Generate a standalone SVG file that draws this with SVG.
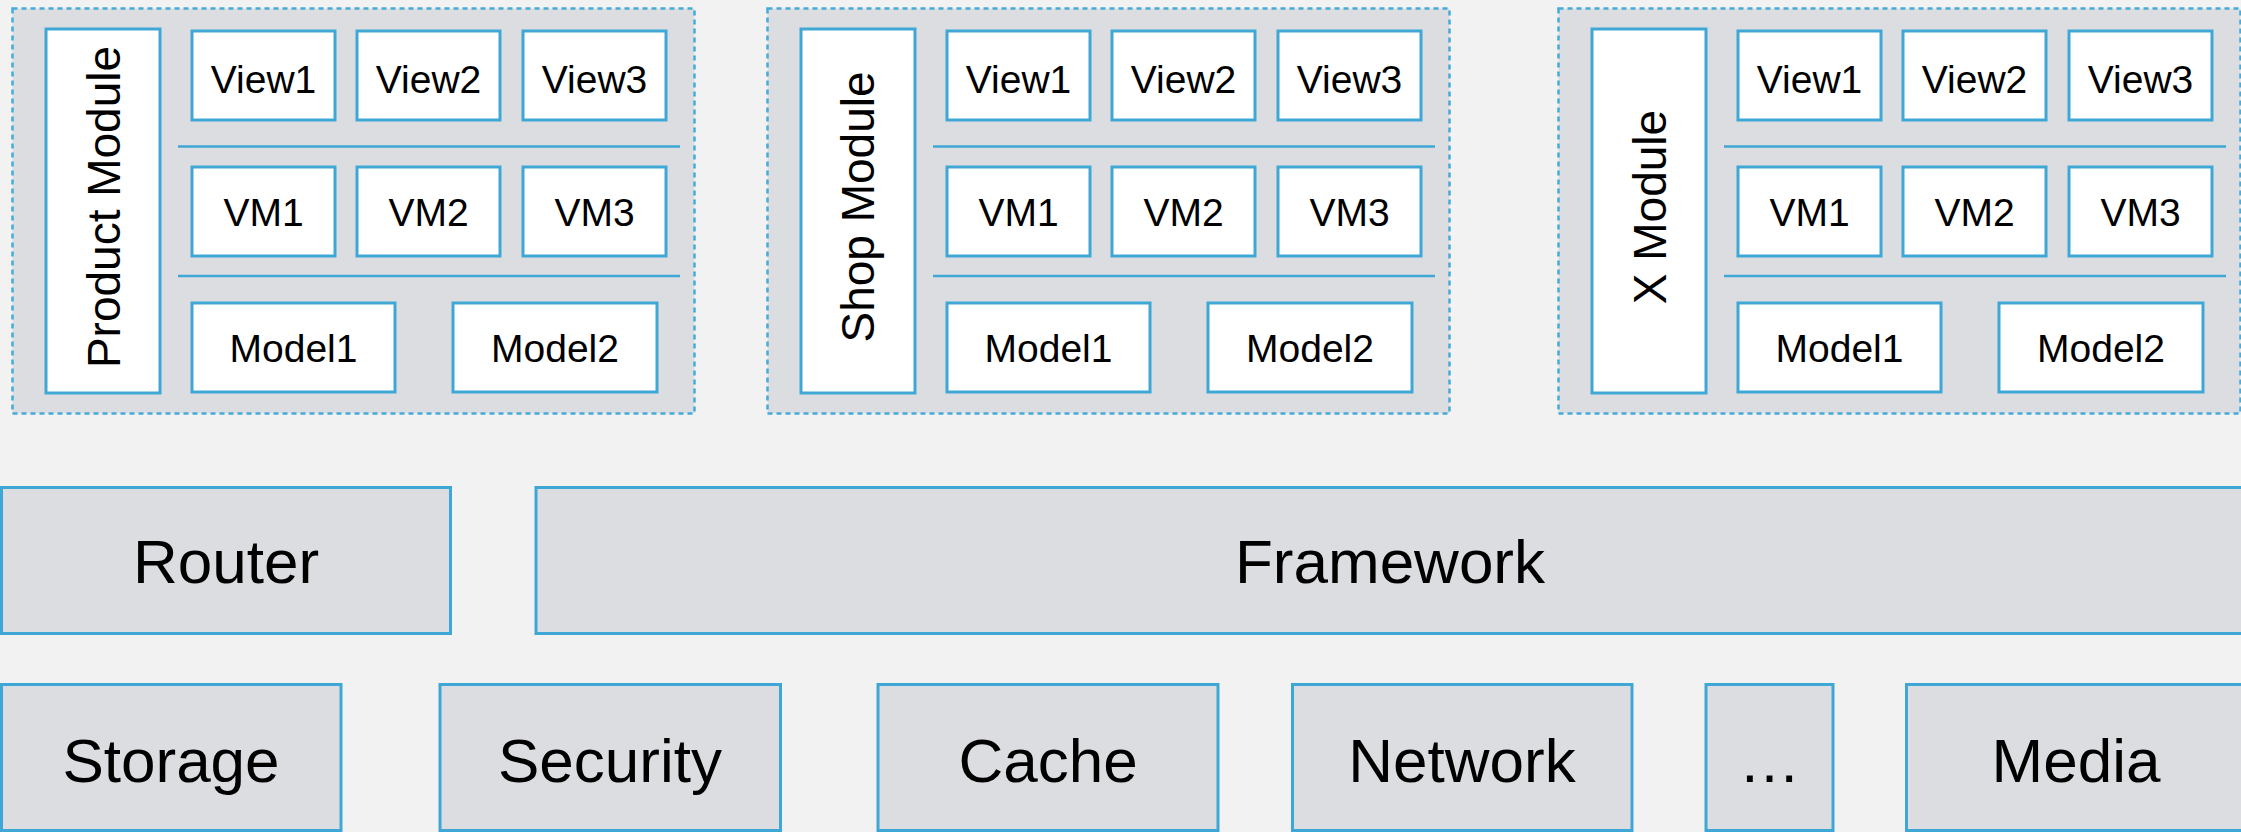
<svg xmlns="http://www.w3.org/2000/svg" width="2241" height="832" viewBox="0 0 2241 832">
<style>
.bg{fill:#f2f2f2}
.mod{fill:#dcdde0;stroke:#45abd9;stroke-width:2.5;stroke-dasharray:5 4}
.wb{fill:#ffffff;stroke:#3fa7d6;stroke-width:3}
.gb{fill:#dcdde0;stroke:#3fa7d6;stroke-width:3}
.sep{stroke:#3fa7d6;stroke-width:2.5}
text{font-family:"Liberation Sans",Arial,sans-serif;fill:#000;text-anchor:middle}
.s{font-size:39px}
.v{font-size:46px}
.b{font-size:62px}
</style>
<rect class="bg" x="0" y="0" width="2241" height="832"/>

<g id="product-module" transform="translate(12,0)">
  <rect class="mod" x="0.5" y="8.5" width="682" height="405"/>
  <rect class="wb" x="34" y="29" width="114" height="364"/>
  <text class="v" transform="translate(108,207) rotate(-90)">Product Module</text>
  <rect class="wb" x="180" y="31" width="143" height="89"/><text class="s" x="251.5" y="93">View1</text>
  <rect class="wb" x="345" y="31" width="143" height="89"/><text class="s" x="416.5" y="93">View2</text>
  <rect class="wb" x="511" y="31" width="143" height="89"/><text class="s" x="582.5" y="93">View3</text>
  <line class="sep" x1="166" y1="146.5" x2="668" y2="146.5"/>
  <rect class="wb" x="180" y="167" width="143" height="89"/><text class="s" x="251.5" y="226">VM1</text>
  <rect class="wb" x="345" y="167" width="143" height="89"/><text class="s" x="416.5" y="226">VM2</text>
  <rect class="wb" x="511" y="167" width="143" height="89"/><text class="s" x="582.5" y="226">VM3</text>
  <line class="sep" x1="166" y1="276" x2="668" y2="276"/>
  <rect class="wb" x="180" y="303" width="203" height="89"/><text class="s" x="281.5" y="362">Model1</text>
  <rect class="wb" x="441" y="303" width="204" height="89"/><text class="s" x="543" y="362">Model2</text>
</g>

<g id="shop-module" transform="translate(767,0)">
  <rect class="mod" x="0.5" y="8.5" width="682" height="405"/>
  <rect class="wb" x="34" y="29" width="114" height="364"/>
  <text class="v" transform="translate(107,207) rotate(-90)">Shop Module</text>
  <rect class="wb" x="180" y="31" width="143" height="89"/><text class="s" x="251.5" y="93">View1</text>
  <rect class="wb" x="345" y="31" width="143" height="89"/><text class="s" x="416.5" y="93">View2</text>
  <rect class="wb" x="511" y="31" width="143" height="89"/><text class="s" x="582.5" y="93">View3</text>
  <line class="sep" x1="166" y1="146.5" x2="668" y2="146.5"/>
  <rect class="wb" x="180" y="167" width="143" height="89"/><text class="s" x="251.5" y="226">VM1</text>
  <rect class="wb" x="345" y="167" width="143" height="89"/><text class="s" x="416.5" y="226">VM2</text>
  <rect class="wb" x="511" y="167" width="143" height="89"/><text class="s" x="582.5" y="226">VM3</text>
  <line class="sep" x1="166" y1="276" x2="668" y2="276"/>
  <rect class="wb" x="180" y="303" width="203" height="89"/><text class="s" x="281.5" y="362">Model1</text>
  <rect class="wb" x="441" y="303" width="204" height="89"/><text class="s" x="543" y="362">Model2</text>
</g>

<g id="x-module" transform="translate(1558,0)">
  <rect class="mod" x="0.5" y="8.5" width="682" height="405"/>
  <rect class="wb" x="34" y="29" width="114" height="364"/>
  <text class="v" transform="translate(108,207) rotate(-90)">X Module</text>
  <rect class="wb" x="180" y="31" width="143" height="89"/><text class="s" x="251.5" y="93">View1</text>
  <rect class="wb" x="345" y="31" width="143" height="89"/><text class="s" x="416.5" y="93">View2</text>
  <rect class="wb" x="511" y="31" width="143" height="89"/><text class="s" x="582.5" y="93">View3</text>
  <line class="sep" x1="166" y1="146.5" x2="668" y2="146.5"/>
  <rect class="wb" x="180" y="167" width="143" height="89"/><text class="s" x="251.5" y="226">VM1</text>
  <rect class="wb" x="345" y="167" width="143" height="89"/><text class="s" x="416.5" y="226">VM2</text>
  <rect class="wb" x="511" y="167" width="143" height="89"/><text class="s" x="582.5" y="226">VM3</text>
  <line class="sep" x1="166" y1="276" x2="668" y2="276"/>
  <rect class="wb" x="180" y="303" width="203" height="89"/><text class="s" x="281.5" y="362">Model1</text>
  <rect class="wb" x="441" y="303" width="204" height="89"/><text class="s" x="543" y="362">Model2</text>
</g>

<g id="router"><rect class="gb" x="1.5" y="487.5" width="449" height="146"/><text class="b" x="226" y="583">Router</text></g>
<g id="framework"><rect class="gb" x="536" y="487.5" width="1710" height="146"/><text class="b" x="1390" y="583">Framework</text></g>

<g id="storage"><rect class="gb" x="1.5" y="684.5" width="339.5" height="146"/><text class="b" x="171" y="782">Storage</text></g>
<g id="security"><rect class="gb" x="440" y="684.5" width="340.5" height="146"/><text class="b" x="610" y="782">Security</text></g>
<g id="cache"><rect class="gb" x="878" y="684.5" width="340" height="146"/><text class="b" x="1048" y="782">Cache</text></g>
<g id="network"><rect class="gb" x="1292.5" y="684.5" width="339.5" height="146"/><text class="b" x="1462" y="782">Network</text></g>
<g id="more"><rect class="gb" x="1706" y="684.5" width="127" height="146"/><text class="b" x="1769.5" y="782">…</text></g>
<g id="media"><rect class="gb" x="1906.5" y="684.5" width="340" height="146"/><text class="b" x="2076" y="782">Media</text></g>

<g id="connectors"></g>
</svg>
